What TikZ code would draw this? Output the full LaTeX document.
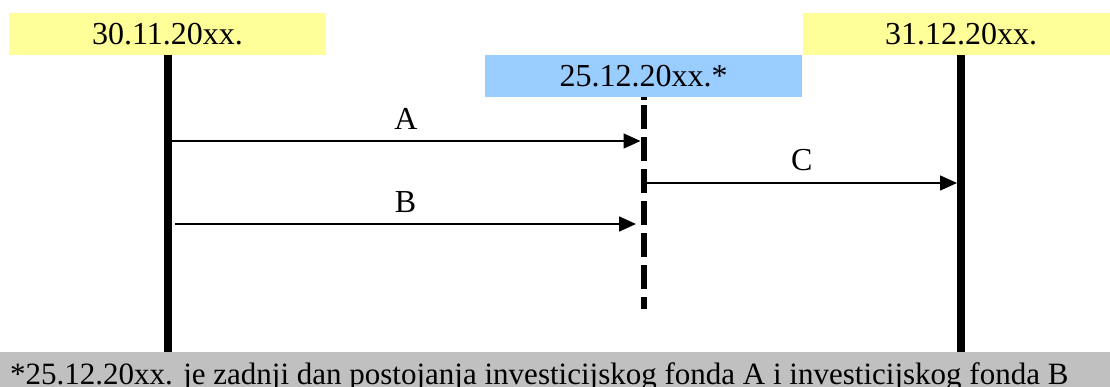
\documentclass[tikz,border=0pt]{standalone}
\usepackage{fontspec}
\setmainfont{Liberation Serif}
\usetikzlibrary{arrows.meta}
\definecolor{dateyellow}{HTML}{FFFF99}
\definecolor{dateblue}{HTML}{99CCFF}
\definecolor{notegray}{HTML}{C0C0C0}
\begin{document}
\begin{tikzpicture}[x=1pt,y=-1pt,
  font=\fontsize{31}{36}\selectfont,
  datebox/.style={minimum width=317pt, minimum height=42pt, inner sep=0pt, draw=none, font=\fontsize{32}{36}\selectfont},
  timeline/.style={line width=8pt},
  cutline/.style={line width=6pt, dash pattern=on 3pt off 5pt on 24pt off 8pt on 24pt off 8pt on 24pt off 8pt on 24pt off 8pt on 24pt off 8pt on 24pt off 8pt on 24pt off 8pt},
  flow/.style={line width=1.5pt, -{Triangle[length=17pt,width=15pt]}},
  flowlabel/.style={above=11pt, inner sep=0pt, font=\fontsize{32}{36}\selectfont}]
\useasboundingbox (0,0) rectangle (1110,387);
% date boxes
\node[datebox, fill=dateyellow] (d1) at (167.5,34) {30.11.20xx.};
\node[datebox, fill=dateblue] (d2) at (643.5,76) {25.12.20xx.*};
\node[datebox, fill=dateyellow] (d3) at (961,34) {31.12.20xx.};
% note band
\node[fill=notegray, minimum width=1120pt, minimum height=35pt, inner sep=0pt, anchor=north west] (note) at (0,352) {};
\node[anchor=base west, inner sep=0pt] (notetext) at (10,384.5) {*25.12.20xx. je zadnji dan postojanja investicijskog fonda A i investicijskog fonda B};
% timeline ends
\coordinate (d1end) at (167.5,352);
\coordinate (d2end) at (643.5,309);
\coordinate (d3end) at (961,352);
\draw[timeline] (d1.south) -- (d1end);
\draw[timeline] (d3.south) -- (d3end);
\draw[cutline] (d2.south) -- (d2end);
% arrow ends
\coordinate (a0) at (171.5,141);
\coordinate (a1) at (640.5,141);
\coordinate (b0) at (175,224);
\coordinate (b1) at (636,224);
\coordinate (c0) at (646.5,183);
\coordinate (c1) at (957,183);
\draw[flow] (a0) -- node[flowlabel] {A} (a1);
\draw[flow] (b0) -- node[flowlabel] {B} (b1);
\draw[flow] (c0) -- node[flowlabel] {C} (c1);
\end{tikzpicture}
\end{document}
